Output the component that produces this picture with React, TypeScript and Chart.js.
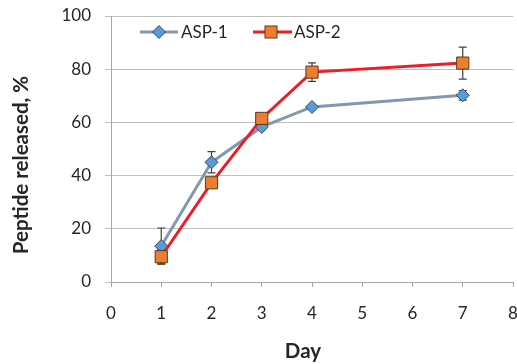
import React, { useEffect, useRef } from "react";
import { Chart, registerables } from "chart.js";

Chart.register(...registerables);

const days = [1, 2, 3, 4, 7];
const asp1 = [13.5, 45, 58.3, 65.8, 70.2];
const asp1Err = [6.8, 4, 1, 0.6, 1.8];
const asp2 = [9.5, 37.3, 61.5, 78.9, 82.3];
const asp2Err = [2.7, 1.5, 1.5, 3.5, 6];
const seriesNames = ["ASP-1", "ASP-2"];
const xTicks = [0, 1, 2, 3, 4, 5, 6, 7, 8];
const yTicks = [0, 20, 40, 60, 80, 100];
const xTitle = "Day";
const yTitle = "Peptide released, %";

const FONT = "Lato, 'Open Sans', sans-serif";
const AREA = { left: 111, top: 16, right: 513, bottom: 282 };

const fixAreaPlugin = {
  id: "fixArea",
  afterLayout(chart: any) {
    const xs = chart.scales.x;
    const ys = chart.scales.y;
    chart.chartArea.left = AREA.left;
    chart.chartArea.right = AREA.right;
    chart.chartArea.top = AREA.top;
    chart.chartArea.bottom = AREA.bottom;
    chart.chartArea.width = AREA.right - AREA.left;
    chart.chartArea.height = AREA.bottom - AREA.top;
    xs.left = AREA.left;
    xs.right = AREA.right;
    xs.width = AREA.right - AREA.left;
    xs.top = AREA.bottom;
    xs.bottom = 364;
    xs.height = 364 - AREA.bottom;
    ys.left = 0;
    ys.right = AREA.left;
    ys.width = AREA.left;
    ys.top = AREA.top;
    ys.bottom = AREA.bottom;
    ys.height = AREA.bottom - AREA.top;
    xs.configure();
    ys.configure();
  },
};

const errorBarPlugin = {
  id: "errorBars",
  beforeDatasetsDraw(chart: any) {
    const ctx = chart.ctx;
    const xs = chart.scales.x;
    const ys = chart.scales.y;
    const errs = [asp1Err, asp2Err];
    const vals = [asp1, asp2];
    ctx.save();
    ctx.strokeStyle = "#404040";
    ctx.lineWidth = 1.2;
    errs.forEach((err, si) => {
      days.forEach((d, i) => {
        const px = xs.getPixelForValue(d);
        const top = ys.getPixelForValue(vals[si][i] + err[i]);
        const bot = ys.getPixelForValue(vals[si][i] - err[i]);
        ctx.beginPath();
        ctx.moveTo(px, top);
        ctx.lineTo(px, bot);
        ctx.moveTo(px - 4, top);
        ctx.lineTo(px + 4, top);
        ctx.moveTo(px - 4, bot);
        ctx.lineTo(px + 4, bot);
        ctx.stroke();
      });
    });
    ctx.restore();
  },
};

const legendPlugin = {
  id: "customLegend",
  afterDraw(chart: any) {
    const ctx = chart.ctx;
    const y = 32;
    ctx.save();
    // ASP-1
    ctx.strokeStyle = "#8497B0";
    ctx.lineWidth = 3;
    ctx.beginPath();
    ctx.moveTo(140, y);
    ctx.lineTo(178, y);
    ctx.stroke();
    ctx.fillStyle = "#5B9BD5";
    ctx.strokeStyle = "#3A4A5C";
    ctx.lineWidth = 1;
    ctx.beginPath();
    ctx.moveTo(159 - 6.5, y);
    ctx.lineTo(159, y - 6.5);
    ctx.lineTo(159 + 6.5, y);
    ctx.lineTo(159, y + 6.5);
    ctx.closePath();
    ctx.fill();
    ctx.stroke();
    // ASP-2
    ctx.strokeStyle = "#EE1C25";
    ctx.lineWidth = 3;
    ctx.beginPath();
    ctx.moveTo(253, y);
    ctx.lineTo(292, y);
    ctx.stroke();
    ctx.fillStyle = "#ED7D31";
    ctx.strokeStyle = "#5A3A20";
    ctx.lineWidth = 1;
    ctx.fillRect(271 - 6, y - 6, 12, 12);
    ctx.strokeRect(271 - 6, y - 6, 12, 12);
    ctx.fillStyle = "#262626";
    ctx.font = `17px ${FONT}`;
    ctx.textBaseline = "middle";
    ctx.textAlign = "left";
    ctx.fillText(seriesNames[0], 181, y + 1);
    ctx.fillText(seriesNames[1], 294, y + 1);

    // axis titles
    ctx.font = `bold 20.5px ${FONT}`;
    ctx.textAlign = "center";
    ctx.textBaseline = "middle";
    ctx.fillText(xTitle, 303, 351);
    ctx.translate(21, 165);
    ctx.rotate(-Math.PI / 2);
    ctx.fillText(yTitle, 0, 0);
    ctx.restore();
  },
};

export default function App() {
  const ref = useRef<HTMLCanvasElement | null>(null);
  useEffect(() => {
    document.body.style.margin = "0";
    const canvas = ref.current!;
    const chart = new Chart(canvas, {
      type: "line",
      data: {
        datasets: [
          {
            label: seriesNames[0],
            data: days.map((d, i) => ({ x: d, y: asp1[i] })),
            borderColor: "#8497B0",
            borderWidth: 3,
            pointStyle: "rectRot",
            pointRadius: 6.5,
            pointBackgroundColor: "#5B9BD5",
            pointBorderColor: "#3A4A5C",
            pointBorderWidth: 1,
            tension: 0,
            order: 2,
          },
          {
            label: seriesNames[1],
            data: days.map((d, i) => ({ x: d, y: asp2[i] })),
            borderColor: "#EE1C25",
            borderWidth: 3,
            pointStyle: "rect",
            pointRadius: 8.6,
            pointBackgroundColor: "#ED7D31",
            pointBorderColor: "#5A3A20",
            pointBorderWidth: 1,
            tension: 0,
            order: 1,
          },
        ],
      },
      options: {
        animation: false,
        responsive: false,
        events: [],
        layout: { padding: { top: 16, right: 4, left: 0, bottom: 0 } },
        plugins: { legend: { display: false }, tooltip: { enabled: false } },
        scales: {
          x: {
            type: "linear",
            min: 0,
            max: 8,
            afterBuildTicks: (s: any) => {
              s.ticks = xTicks.map((v) => ({ value: v }));
            },
            afterFit: (s: any) => {
              s.height = 82;
            },
            grid: {
              drawOnChartArea: false,
              drawTicks: true,
              tickLength: 5,
              color: "#A6A6A6",
            },
            border: { color: "#A6A6A6", width: 1 },
            ticks: {
              color: "#262626",
              font: { family: FONT, size: 17 },
              padding: 16,
              maxRotation: 0,
            },
          },
          y: {
            min: 0,
            max: 100,
            afterBuildTicks: (s: any) => {
              s.ticks = yTicks.map((v) => ({ value: v }));
            },
            afterFit: (s: any) => {
              s.width = 111;
            },
            grid: {
              color: "#BFBFBF",
              lineWidth: 1,
              tickLength: 6,
            },
            border: { color: "#A6A6A6", width: 1 },
            ticks: {
              color: "#262626",
              font: { family: FONT, size: 17 },
              padding: 14,
            },
          },
        },
      },
      plugins: [fixAreaPlugin, errorBarPlugin, legendPlugin],
    } as any);
    return () => chart.destroy();
  }, []);
  return (
    <div style={{ width: 517, height: 364, background: "#fff" }}>
      <canvas ref={ref} width={517} height={364} style={{ display: "block" }} />
    </div>
  );
}
